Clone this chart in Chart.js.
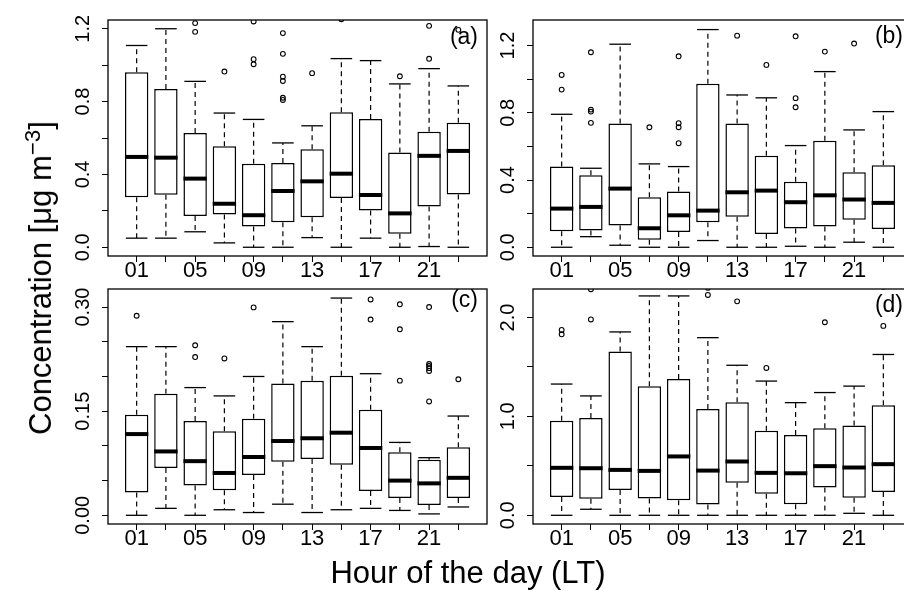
<!DOCTYPE html>
<html><head><meta charset="utf-8">
<script src="https://cdn.jsdelivr.net/npm/chart.js@4.4.1/dist/chart.umd.min.js"></script>
<style>
html,body{margin:0;padding:0;background:#fff;}
#wrap{position:relative;width:904px;height:591px;overflow:hidden;background:#fff;font-family:'Liberation Sans',Arial,Helvetica,sans-serif;color:#000;}
canvas{position:absolute;left:0;top:0;}
#xt{position:absolute;left:468px;top:557px;transform:translateX(-50%);font-size:31px;line-height:31px;white-space:nowrap;}
#yt{position:absolute;left:42px;top:278px;transform:translate(-50%,-50%) rotate(-90deg);font-size:31px;line-height:31px;white-space:nowrap;}
#yt span{position:relative;top:-0.5em;font-size:0.72em;}
</style></head>
<body><div id="wrap">
<canvas id="ca" width="930" height="591"></canvas>
<canvas id="cb" width="930" height="591"></canvas>
<canvas id="cc" width="930" height="591"></canvas>
<canvas id="cd" width="930" height="591"></canvas>
<div id="xt">Hour of the day (LT)</div>
<div id="yt">Concentration [μg m<span>−3</span>]</div>
</div>
<script>
const hours = ['01','03','05','07','09','11','13','15','17','19','21','23'];

// Panel (a)
const aLow  = [0.050,0.050,0.085,0.024,0.000,0.000,0.053,0.000,0.050,0.000,0.004,0.000];
const aQ1   = [0.274,0.288,0.171,0.180,0.114,0.138,0.165,0.270,0.202,0.074,0.224,0.290];
const aMed  = [0.496,0.492,0.377,0.239,0.176,0.309,0.362,0.404,0.287,0.186,0.502,0.529];
const aQ3   = [0.961,0.869,0.627,0.555,0.458,0.463,0.538,0.742,0.704,0.520,0.634,0.684];
const aHigh = [1.108,1.200,0.911,0.737,0.702,0.573,0.667,1.036,1.025,0.897,0.981,0.886];
const aOut  = [[],[],[1.231,1.183],[0.965],[1.240,1.033,1.005],[1.176,1.062,0.937,0.913,0.821,0.809],[0.956],[1.252],[],[0.939],[1.216,1.035],[1.194]];
const aTicks = [0,0.2,0.4,0.6,0.8,1.0,1.2];
const aTickLabels = [0,0.4,0.8,1.2];

// Panel (b)
const bLow  = [0,0.063,0.012,0,0,0.040,0,0,0.006,0,0.030,0];
const bQ1   = [0.095,0.099,0.129,0.044,0.091,0.149,0.182,0.079,0.111,0.123,0.163,0.109];
const bMed  = [0.230,0.240,0.349,0.113,0.190,0.218,0.327,0.337,0.268,0.309,0.284,0.264];
const bQ3   = [0.480,0.428,0.736,0.297,0.331,0.972,0.736,0.545,0.389,0.633,0.446,0.488];
const bHigh = [0.791,0.470,1.208,0.496,0.480,1.295,0.906,0.889,0.605,1.045,0.698,0.807];
const bOut  = [[1.025,0.938],[1.160,0.819,0.807,0.740],[],[0.714],[1.136,0.738,0.714,0.619],[],[1.259],[1.085],[1.255,0.887,0.833],[1.164],[1.212],[]];
const bTicks = [0,0.2,0.4,0.6,0.8,1.0,1.2];
const bTickLabels = [0,0.4,0.8,1.2];

// Panel (c)
const cLow  = [0,0.010,0,0.008,0.004,0.016,0.004,0.008,0.010,0.007,0.002,0.012];
const cQ1   = [0.033,0.068,0.043,0.036,0.058,0.077,0.081,0.073,0.035,0.025,0.015,0.025];
const cMed  = [0.117,0.092,0.078,0.061,0.084,0.107,0.111,0.119,0.097,0.050,0.046,0.054];
const cQ3   = [0.145,0.175,0.136,0.121,0.139,0.190,0.194,0.201,0.152,0.091,0.080,0.098];
const cHigh = [0.243,0.243,0.184,0.172,0.200,0.279,0.243,0.313,0.204,0.105,0.083,0.143];
const cOut  = [[0.2875],[],[0.245,0.228],[0.226],[0.2995],[],[],[],[0.311,0.282],[0.304,0.268,0.194],[0.300,0.218,0.215,0.212,0.208,0.164],[0.196]];
const cTicks = [0,0.05,0.10,0.15,0.20,0.25,0.30];
const cTickLabels = [0,0.15,0.30];

// Panel (d)
const dLow  = [0,0.061,0,0,0,0,0,0,0,0,0.020,0];
const dQ1   = [0.184,0.167,0.255,0.170,0.153,0.109,0.330,0.218,0.112,0.282,0.177,0.235];
const dMed  = [0.480,0.476,0.459,0.449,0.595,0.452,0.544,0.429,0.425,0.497,0.483,0.517];
const dQ3   = [0.956,0.983,1.656,1.306,1.378,1.075,1.143,0.854,0.813,0.881,0.908,1.112];
const dHigh = [1.327,1.207,1.854,2.218,2.218,1.796,1.517,1.357,1.139,1.241,1.306,1.626];
const dOut  = [[1.874,1.830],[2.286,1.980],[],[],[],[2.299,2.228],[2.163],[1.490],[],[1.952],[],[2.31,1.915]];
const dTicks = [0,0.5,1.0,1.5,2.0];
const dTickLabels = [0,1,2];

const FONT = "'Liberation Sans', Arial, Helvetica, sans-serif";
const CW = 930, CH = 591, XH = 40;

const framePlugin = {
  id: 'frameAndLabels',
  afterDraw(chart, args, opts) {
    const ctx = chart.ctx, a = chart.chartArea, ys = chart.scales.y;
    ctx.save();
    ctx.strokeStyle = '#000'; ctx.lineWidth = 1.3;
    ctx.strokeRect(a.left, a.top, a.right - a.left, a.bottom - a.top);
    ctx.fillStyle = '#000';
    ctx.font = '20px ' + FONT;
    ctx.textAlign = 'center'; ctx.textBaseline = 'alphabetic';
    opts.yLabels.forEach(v => {
      const py = ys.getPixelForValue(v);
      ctx.save();
      ctx.translate(a.left - 19, py);
      ctx.rotate(-Math.PI / 2);
      ctx.fillText(v.toFixed(opts.dec), 0, 0);
      ctx.restore();
    });
    ctx.font = '23px ' + FONT;
    ctx.textAlign = 'right'; ctx.textBaseline = 'middle';
    ctx.fillText(opts.tag, a.right - 9, a.top + opts.tagDy);
    ctx.restore();
  }
};

function makePanel(id, box, low, q1, med, q3, high, out, yMin, yMax, yTicks, yLabels, dec, tag, tagDy) {
  const pos = hours.map((h, i) => i + 1);
  const boxes = pos.map((x, i) => ({x: x, y: [q1[i], q3[i]]}));
  const meds = pos.map((x, i) => ({x: x, y: med[i]}));
  const caps = [];
  pos.forEach((x, i) => { caps.push({x: x, y: high[i]}); caps.push({x: x, y: low[i]}); });
  const whisk = [];
  pos.forEach((x, i) => {
    whisk.push({x: x, y: q3[i]}, {x: x, y: high[i]}, {x: x, y: null},
               {x: x, y: q1[i]}, {x: x, y: low[i]}, {x: x, y: null});
  });
  const outs = [];
  pos.forEach((x, i) => out[i].forEach(v => outs.push({x: x, y: v})));

  new Chart(document.getElementById(id), {
    type: 'bar',
    data: {
      datasets: [
        {type: 'scatter', data: meds, pointStyle: 'line', pointRadius: 11.7, borderColor: '#000', borderWidth: 4, order: 0},
        {type: 'scatter', data: caps, pointStyle: 'line', pointRadius: 10.8, borderColor: '#000', borderWidth: 1.3, order: 1},
        {type: 'scatter', data: outs, pointStyle: 'circle', pointRadius: 2.4, borderColor: '#000', backgroundColor: 'rgba(0,0,0,0)', borderWidth: 1.1, order: 2},
        {type: 'bar', data: boxes, backgroundColor: '#fff', borderColor: '#000', borderWidth: 1.5, borderSkipped: false, barPercentage: 0.8, categoryPercentage: 1.0, order: 3},
        {type: 'line', data: whisk, borderColor: '#000', borderWidth: 1.2, borderDash: [5, 4], pointRadius: 0, spanGaps: false, fill: false, tension: 0, order: 4}
      ]
    },
    options: {
      responsive: false,
      animation: false,
      events: [],
      layout: {autoPadding: false, padding: {left: box.L, top: box.T, right: CW - box.R, bottom: CH - box.B - XH}},
      plugins: {
        legend: {display: false}, tooltip: {enabled: false}, title: {display: false},
        frameAndLabels: {yLabels: yLabels, dec: dec, tag: tag, tagDy: tagDy}
      },
      scales: {
        x: {
          type: 'linear', min: 0.02, max: 12.98, offset: false,
          afterFit: s => { s.height = XH; s.paddingLeft = 0; s.paddingRight = 0; },
          afterBuildTicks: s => { s.ticks = pos.map(v => ({value: v})); },
          ticks: {autoSkip: false, maxRotation: 0, minRotation: 0, padding: -4, color: '#000',
                  font: {size: 22, family: FONT},
                  callback: (v, i) => (i % 2 === 0 ? hours[i] : '')},
          grid: {offset: false, display: true, drawOnChartArea: false, drawTicks: true, tickLength: 6, color: '#000', lineWidth: 1},
          border: {display: false}
        },
        y: {
          type: 'linear', min: yMin, max: yMax,
          afterFit: s => { s.width = 0; s.paddingTop = 0; s.paddingBottom = 0; },
          afterBuildTicks: s => { s.ticks = yTicks.map(v => ({value: v})); },
          ticks: {display: false},
          grid: {display: true, drawOnChartArea: false, drawTicks: true, tickLength: 6, color: '#000', lineWidth: 1},
          border: {display: false}
        }
      }
    },
    plugins: [framePlugin]
  });
}

makePanel('ca', {L: 108, T: 20, R: 487, B: 256}, aLow, aQ1, aMed, aQ3, aHigh, aOut, -0.048, 1.248, aTicks, aTickLabels, 1, '(a)', 18);
makePanel('cb', {L: 533, T: 20, R: 912, B: 256}, bLow, bQ1, bMed, bQ3, bHigh, bOut, -0.052, 1.352, bTicks, bTickLabels, 1, '(b)', 17);
makePanel('cc', {L: 108, T: 289, R: 487, B: 524}, cLow, cQ1, cMed, cQ3, cHigh, cOut, -0.01254, 0.32604, cTicks, cTickLabels, 2, '(c)', 12);
makePanel('cd', {L: 533, T: 289, R: 912, B: 524}, dLow, dQ1, dMed, dQ3, dHigh, dOut, -0.088, 2.288, dTicks, dTickLabels, 1, '(d)', 17);
</script>
</body></html>
